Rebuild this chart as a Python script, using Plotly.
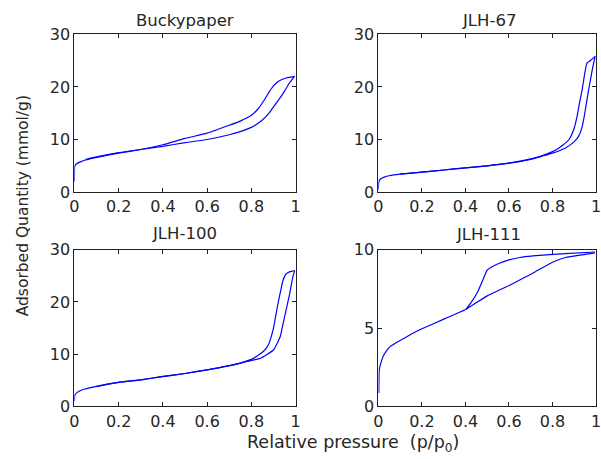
import plotly.graph_objects as go

# ---------------- data ----------------
bp_ads_x = [0, 0.0005, 0.002, 0.01, 0.03, 0.05, 0.1, 0.15, 0.2, 0.3, 0.4, 0.5, 0.6, 0.7, 0.75, 0.8, 0.85, 0.88, 0.9, 0.93, 0.95, 0.97, 0.995]
bp_ads_y = [2.0, 4.6, 5.0, 5.4, 5.8, 6.1, 6.6, 7.0, 7.4, 8.1, 8.7, 9.4, 10.0, 10.9, 11.5, 12.3, 13.7, 15.0, 16.2, 17.9, 19.2, 20.6, 22.0]
bp_des_x = [0.995, 0.97, 0.95, 0.92, 0.9, 0.88, 0.86, 0.83, 0.8, 0.75, 0.7, 0.6, 0.5, 0.4, 0.3, 0.2, 0.1, 0.05]
bp_des_y = [22.0, 21.8, 21.6, 21.0, 20.2, 19.0, 17.6, 15.8, 14.6, 13.5, 12.7, 11.2, 10.2, 9.0, 8.1, 7.5, 6.7, 6.2]

j67_ads_x = [0, 0.002, 0.01, 0.03, 0.05, 0.1, 0.2, 0.3, 0.4, 0.5, 0.6, 0.7, 0.75, 0.8, 0.86, 0.9, 0.92, 0.935, 0.946, 0.956, 0.966, 0.976, 0.986, 0.996]
j67_ads_y = [0.5, 2.0, 2.5, 2.9, 3.1, 3.4, 3.8, 4.2, 4.6, 5.0, 5.5, 6.2, 6.8, 7.4, 8.4, 9.6, 10.6, 12.2, 14.4, 16.9, 19.4, 21.7, 23.9, 25.8]
j67_des_x = [0.996, 0.98, 0.958, 0.946, 0.936, 0.924, 0.913, 0.898, 0.876, 0.85, 0.83, 0.8, 0.75, 0.7, 0.6, 0.5, 0.4, 0.3, 0.2, 0.1]
j67_des_y = [25.8, 25.2, 24.5, 22.0, 19.4, 16.9, 14.4, 11.9, 10.0, 9.0, 8.4, 7.7, 6.9, 6.3, 5.5, 5.0, 4.6, 4.2, 3.8, 3.4]

j100_ads_x = [0, 0.002, 0.01, 0.036, 0.094, 0.197, 0.3, 0.39, 0.5, 0.6, 0.69, 0.78, 0.84, 0.9, 0.93, 0.95, 0.973, 0.987, 0.996]
j100_ads_y = [1.0, 2.2, 2.6, 3.2, 3.8, 4.6, 5.1, 5.7, 6.3, 7.0, 7.7, 8.6, 9.2, 10.8, 13.3, 17.1, 21.5, 24.7, 26.0]
j100_des_x = [0.996, 0.975, 0.958, 0.943, 0.932, 0.92, 0.909, 0.898, 0.876, 0.854, 0.81, 0.75, 0.7, 0.6, 0.5, 0.4, 0.3, 0.2, 0.1]
j100_des_y = [26.0, 25.8, 25.4, 24.1, 22.0, 19.6, 17.0, 14.6, 11.7, 10.5, 9.2, 8.3, 7.8, 7.0, 6.3, 5.7, 5.1, 4.6, 3.8]

j111_ads_x = [0.002, 0.004, 0.01, 0.022, 0.035, 0.052, 0.08, 0.112, 0.15, 0.2, 0.306, 0.403, 0.5, 0.606, 0.71, 0.8, 0.86, 0.95, 0.995]
j111_ads_y = [0.85, 2.3, 2.7, 3.2, 3.5, 3.8, 4.05, 4.3, 4.6, 4.95, 5.6, 6.2, 7.05, 7.75, 8.5, 9.2, 9.5, 9.7, 9.8]
j111_des_x = [0.995, 0.86, 0.71, 0.65, 0.6, 0.55, 0.52, 0.5, 0.478, 0.456, 0.425, 0.403]
j111_des_y = [9.85, 9.75, 9.6, 9.5, 9.35, 9.1, 8.9, 8.7, 8.0, 7.3, 6.6, 6.2]

titles = ["Buckypaper", "JLH-67", "JLH-100", "JLH-111"]
x_ticks = [0, 0.2, 0.4, 0.6, 0.8, 1]
x_tick_labels = ["0", "0.2", "0.4", "0.6", "0.8", "1"]
y_ticks_big = [0, 10, 20, 30]
y_ticks_small = [0, 5, 10]

# ---------------- layout geometry ----------------
W, H = 601, 459
FONT = "DejaVu Sans"
TXT = "#262626"
LINE = "rgb(0,0,255)"


# target positions are given in picture pixels; convert to figure pixels
def fx(p):
    return (p - 2) / 0.9916


def fy(p):
    return (p - 8) / 0.966


def px_x(p):
    return min(1.0, max(0.0, fx(p) / W))


def px_y(p):
    return min(1.0, max(0.0, 1 - fy(p) / H))


left = [px_x(72), px_x(295)]
right = [px_x(378.5), 1.0]
top = [px_y(192.5), px_y(33.5)]
bottom = [px_y(408.5), px_y(250.5)]
dom_x = [left, right, left, right]
dom_y = [top, top, bottom, bottom]

series = [
    (bp_ads_x, bp_ads_y, bp_des_x, bp_des_y, [0, 30], y_ticks_big),
    (j67_ads_x, j67_ads_y, j67_des_x, j67_des_y, [0, 30], y_ticks_big),
    (j100_ads_x, j100_ads_y, j100_des_x, j100_des_y, [0, 30], y_ticks_big),
    (j111_ads_x, j111_ads_y, j111_des_x, j111_des_y, [0, 10], y_ticks_small),
]

fig = go.Figure()
layout = dict(
    width=W, height=H,
    margin=dict(l=0, r=0, t=0, b=0),
    paper_bgcolor="white", plot_bgcolor="white",
    showlegend=False,
    font=dict(family=FONT, size=16, color=TXT),
)

for i, (ax, ay, dx, dy, yr, yt) in enumerate(series):
    n = "" if i == 0 else str(i + 1)
    xa, ya = "x" + n, "y" + n
    for xs, ys in ((ax, ay), (dx, dy)):
        fig.add_trace(go.Scatter(x=xs, y=ys, mode="lines", xaxis=xa, yaxis=ya,
                                 line=dict(color=LINE, width=1.2, shape="spline", smoothing=0.4),
                                 hoverinfo="skip"))
    common = dict(showline=True, linecolor="#202020", linewidth=1, mirror="ticks",
                  ticks="inside", ticklen=4, tickcolor="#202020", tickwidth=1,
                  showgrid=False, zeroline=False, ticklabeloverflow="allow",
                  tickfont=dict(family=FONT, size=16, color=TXT))
    layout["xaxis" + n] = dict(domain=dom_x[i], range=[0, 1], anchor=ya,
                               tickvals=x_ticks, ticktext=x_tick_labels, **common)
    layout["yaxis" + n] = dict(domain=dom_y[i], range=yr, anchor=xa,
                               tickvals=yt, **common)

fig.update_layout(**layout)

ann = []
title_pos = [(183.5, 20), (489.7, 20), (183.5, 234), (489.7, 235)]
for t, (x, y) in zip(titles, title_pos):
    ann.append(dict(text=t, x=px_x(x), y=px_y(y), xref="paper", yref="paper",
                    xanchor="center", yanchor="middle", showarrow=False,
                    font=dict(family=FONT, size=16.5, color=TXT)))
ann.append(dict(text="Adsorbed Quantity (mmol/g)", x=px_x(21), y=px_y(206),
                xref="paper", yref="paper", xanchor="center", yanchor="middle",
                textangle=-90, showarrow=False,
                font=dict(family=FONT, size=15.5, color=TXT)))
ann.append(dict(text="Relative pressure\u00a0\u00a0(p/p<sub>0</sub>)", x=px_x(352.5), y=px_y(446),
                xref="paper", yref="paper", xanchor="center", yanchor="middle",
                showarrow=False, font=dict(family=FONT, size=17.5, color=TXT)))
fig.update_layout(annotations=ann)

fig.write_html("out.html")
